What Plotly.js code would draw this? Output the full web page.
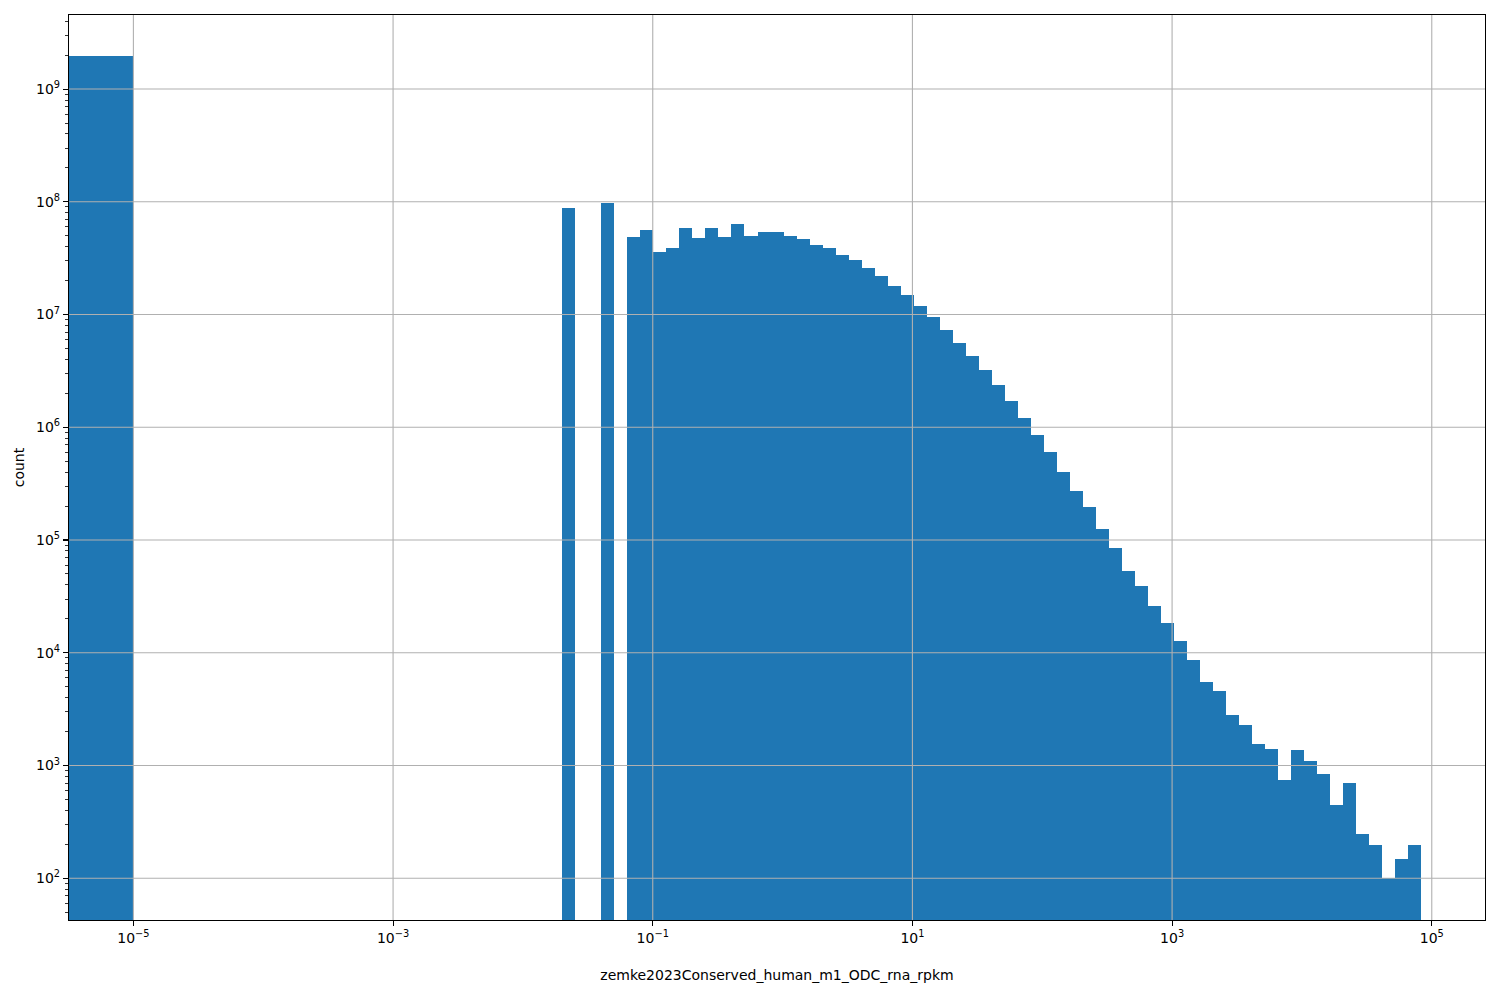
<!DOCTYPE html>
<html>
<head>
<meta charset="utf-8">
<script src="https://cdn.plot.ly/plotly-3.0.1.min.js"></script>
<style>
  html, body { margin: 0; padding: 0; background: #fff; }
  #myDiv { width: 1500px; height: 1000px; }
</style>
</head>
<body>
<div id="myDiv"></div>
<script>
// histogram of log10(rpkm): one bin [0, 1e-5] then 99 log-spaced bins up to the max
var zeroBinCount = 1.98e9;
var logMin = -5;
var logMax = 4.914;
var nBins = 99;
var firstFilledBin = 33;

// counts for log bins 33..98 (0 = empty bin)
var counts = [
    8.9e7, 0, 0, 9.7e7, 0,
    4.83e7, 5.57e7, 3.56e7, 3.86e7, 5.8e7, 4.74e7, 5.8e7, 4.83e7, 6.3e7, 4.93e7,
    5.35e7, 5.35e7, 4.93e7, 4.65e7, 4.11e7, 3.86e7, 3.35e7, 3.03e7, 2.57e7, 2.18e7,
    1.78e7, 1.48e7, 1.19e7, 9.47e6, 7.26e6, 5.57e6, 4.28e6, 3.21e6, 2.37e6, 1.71e6,
    1.21e6, 8.56e5, 6.05e5, 4.03e5, 2.74e5, 1.97e5, 1.26e5, 8.55e4, 5.35e4, 3.95e4,
    2.62e4, 1.82e4, 1.26e4, 8.55e3, 5.56e3, 4.62e3, 2.83e3, 2.31e3, 1.56e3, 1.41e3,
    748, 1360, 1100, 846, 448, 703, 248, 198, 101, 149, 198
];

var xTickVals = [-5, -3, -1, 1, 3, 5];
var xTickText = ['10<sup>\u22125</sup>', '10<sup>\u22123</sup>', '10<sup>\u22121</sup>',
                 '10<sup>1</sup>', '10<sup>3</sup>', '10<sup>5</sup>'];
var yTickVals = [1e2, 1e3, 1e4, 1e5, 1e6, 1e7, 1e8, 1e9];
var yTickText = ['10<sup>2</sup>', '10<sup>3</sup>', '10<sup>4</sup>', '10<sup>5</sup>',
                 '10<sup>6</sup>', '10<sup>7</sup>', '10<sup>8</sup>', '10<sup>9</sup>'];

var binW = (logMax - logMin) / nBins;

var xs = [logMin - 0.5];
var ws = [1];
var ys = [zeroBinCount];
for (let i = 0; i < counts.length; i++) {
    let k = firstFilledBin + i;
    if (counts[i] <= 0) continue;
    xs.push(logMin + (k + 0.5) * binW);
    ws.push(binW);
    ys.push(counts[i]);
}

// minor ticks 2..9 x 10^n for the y axis
var yMinor = [];
for (let e = 1; e <= 9; e++) {
    for (let m = 2; m <= 9; m++) yMinor.push(m * Math.pow(10, e));
}

// matplotlib draws the grid above the bars
var gridColor = '#b0b0b0';
var shapes = [];
for (let v of xTickVals) {
    shapes.push({type: 'line', layer: 'above', xref: 'x', yref: 'paper',
                 x0: v, x1: v, y0: 0, y1: 1, line: {color: gridColor, width: 1.1}});
}
for (let v of yTickVals) {
    shapes.push({type: 'line', layer: 'above', xref: 'paper', yref: 'y',
                 x0: 0, x1: 1, y0: v, y1: v, line: {color: gridColor, width: 1.1}});
}

var bars = {
    type: 'bar',
    x: xs,
    y: ys,
    width: ws,
    marker: {color: '#1f77b4', line: {width: 0}},
    hoverinfo: 'skip'
};

var layout = {
    width: 1500,
    height: 1000,
    margin: {l: 69.3, r: 14.7, t: 15.3, b: 80},
    paper_bgcolor: '#ffffff',
    plot_bgcolor: '#ffffff',
    font: {family: 'DejaVu Sans', size: 14, color: '#000'},
    showlegend: false,
    bargap: 0,
    shapes: shapes,
    xaxis: {
        type: 'linear',
        range: [-5.496, 5.41],
        tickmode: 'array',
        tickvals: xTickVals,
        ticktext: xTickText,
        ticks: 'outside',
        ticklen: 5,
        tickwidth: 1.1,
        tickcolor: '#000',
        showgrid: false,
        zeroline: false,
        showline: true,
        linecolor: '#000',
        linewidth: 1.1,
        mirror: true,
        layer: 'above traces',
        title: {text: 'zemke2023Conserved_human_m1_ODC_rna_rpkm', font: {size: 14}, standoff: 25}
    },
    yaxis: {
        type: 'log',
        range: [1.630, 9.657],
        tickmode: 'array',
        tickvals: yTickVals,
        ticktext: yTickText,
        ticks: 'outside',
        ticklen: 5,
        tickwidth: 1.1,
        tickcolor: '#000',
        minor: {tickmode: 'array', tickvals: yMinor, ticks: 'outside', ticklen: 3,
                tickwidth: 0.8, tickcolor: '#000', showgrid: false},
        showgrid: false,
        zeroline: false,
        showline: true,
        linecolor: '#000',
        linewidth: 1.1,
        mirror: true,
        layer: 'above traces',
        title: {text: 'count', font: {size: 14}, standoff: 8}
    }
};

Plotly.newPlot('myDiv', [bars], layout, {displayModeBar: false, staticPlot: true});
</script>
</body>
</html>
